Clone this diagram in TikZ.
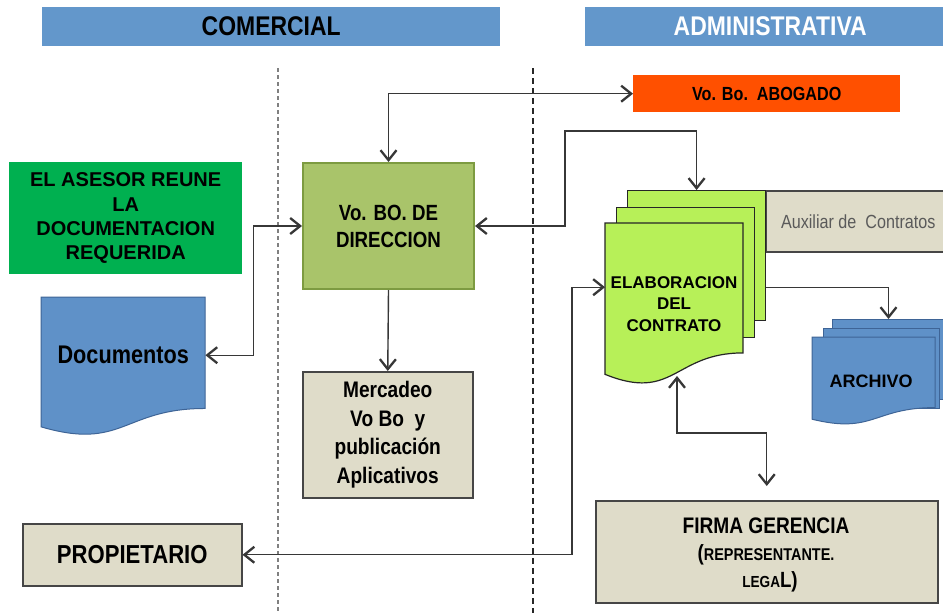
\documentclass[tikz,border=0pt]{standalone}
\usepackage{fontspec}
\setmainfont{Liberation Sans}
\newfontfamily\narrowfont[FakeStretch=0.85]{Liberation Sans}
\usetikzlibrary{arrows.meta,calc}

\definecolor{hdrblue}{RGB}{99,151,203}
\definecolor{asesorgreen}{RGB}{0,176,80}
\definecolor{docblue}{RGB}{95,145,200}
\definecolor{docedge}{RGB}{62,100,150}
\definecolor{olive}{RGB}{169,196,106}
\definecolor{oliveedge}{RGB}{125,155,65}
\definecolor{beige}{RGB}{223,220,201}
\definecolor{beigeedge}{RGB}{70,70,70}
\definecolor{abogred}{RGB}{255,80,0}
\definecolor{limegreen}{RGB}{183,240,88}
\definecolor{linegray}{RGB}{55,55,55}
\definecolor{auxtext}{RGB}{90,90,90}

\newcommand\setfs[2]{\fontsize{#1}{#2}\selectfont}
% document sheet with a wavy bottom edge: options, x, y, width, height
\newcommand\wavedoc[5]{%
  \path[#1] (#2,#3) -- ({#2+#4},#3) -- ({#2+#4},{#3+0.802*#5})
    .. controls ({#2+0.5*#4},{#3+0.802*#5}) and ({#2+0.5*#4},{#3+1.107*#5})
    .. (#2,{#3+0.934*#5}) -- cycle;}

\begin{document}
\begin{tikzpicture}[x=1pt,y=-1pt,
  box/.style={anchor=north west, inner sep=0pt, align=center},
  hdr/.style={box, fill=hdrblue, font=\narrowfont\bfseries\setfs{27}{30}},
  beigebox/.style={box, fill=beige, draw=beigeedge, line width=1.5pt},
  sheet/.style={box, fill=limegreen, draw=black!85, line width=1.2pt},
  bluesheet/.style={box, fill=docblue, draw=docedge, line width=1pt},
  firmatext/.style={inner sep=0pt, font=\narrowfont\bfseries},
  conn/.style={draw=linegray, line width=1.4pt,
    >={Straight Barb[length=10pt,width=16pt,line width=2.3pt]}},
  lane/.style={line width=1.4pt}]

\clip (0,0) rectangle (943,613);
\fill[white] (0,0) rectangle (943,613);

% lane headers
\node[hdr, minimum width=458pt, minimum height=39pt] (hcom) at (42,7) {COMERCIAL};
\node[hdr, text=white, minimum width=370pt, minimum height=39pt] (hadm) at (585,7) {ADMINISTRATIVA};

% lane separators
\draw[lane, draw=black!50, dash pattern=on 4pt off 3pt] (278,68) -- (278,613);
\draw[lane, draw=black!85, line width=1.2pt, dash pattern=on 6pt off 4pt] (533,68) -- (533,613);

% commercial lane
\node[box, fill=asesorgreen, minimum width=233pt, minimum height=112pt,
  font=\bfseries\setfs{20}{24.3}] (asesor) at (9,162)
  {EL ASESOR REUNE\\LA\\DOCUMENTACION\\REQUERIDA};

\wavedoc{fill=docblue, draw=docedge, line width=1pt}{41}{297}{164}{139}
\node[box, minimum width=164pt, minimum height=116pt,
  font=\narrowfont\bfseries\setfs{25.5}{28}] (docs) at (41,297) {Documentos};

\node[box, fill=olive, draw=oliveedge, line width=2pt, minimum width=171pt,
  minimum height=126pt, font=\narrowfont\bfseries\setfs{22}{27}] (vobo) at (302,162)
  {Vo. BO. DE\\DIRECCION};

\node[beigebox, minimum width=170pt, minimum height=126pt,
  font=\narrowfont\bfseries\setfs{22.5}{28.5}] (merc) at (302,371)
  {Mercadeo\\Vo Bo\ \ y\\publicación\\Aplicativos};

\node[beigebox, minimum width=219pt, minimum height=62pt,
  font=\narrowfont\bfseries\setfs{26}{30}] (prop) at (22,523) {PROPIETARIO};

% administrative lane
\node[box, fill=abogred, minimum width=267pt, minimum height=37pt,
  font=\narrowfont\bfseries\setfs{19}{22}] (abog) at (633,75) {Vo. Bo.\ \ ABOGADO};

\node[beigebox, minimum width=185pt, minimum height=61pt, text=auxtext,
  font=\narrowfont\setfs{19}{22}] (aux) at (765,190) {Auxiliar de\ \ Contratos};

\node[sheet, minimum width=138pt, minimum height=130pt] (elabback) at (627,190) {};
\node[sheet, minimum width=138pt, minimum height=130pt] (elabmid) at (616,207) {};
\wavedoc{fill=limegreen, draw=black!85, line width=1.2pt}{605}{223}{138}{162}
\node[box, minimum width=138pt, minimum height=128pt] (elab) at (605,223) {};
\node[align=center, inner sep=0pt, font=\bfseries\setfs{17}{21.5}] (elabtxt) at (674,304)
  {ELABORACION\\DEL\\CONTRATO};

\node[bluesheet, minimum width=112pt, minimum height=80pt] (archback) at (832,319) {};
\node[bluesheet, minimum width=116pt, minimum height=80pt] (archmid) at (823,328) {};
\wavedoc{fill=docblue, draw=docedge, line width=1pt}{812}{337}{123}{88}
\node[box, minimum width=118pt, minimum height=88pt,
  font=\bfseries\setfs{18}{22}] (arch) at (812,337) {ARCHIVO};

\node[beigebox, minimum width=342pt, minimum height=102pt] (firma) at (595,500) {};
\node[firmatext, font=\narrowfont\bfseries\setfs{22.5}{26}] (firma1) at (766,526) {FIRMA GERENCIA};
\node[firmatext] (firma2) at (766,555)
  {{\setfs{22}{26}(}{\setfs{17}{20}REPRESENTANTE.}};
\node[firmatext] (firma3) at (770,582)
  {{\setfs{16}{20}LEGA}{\setfs{22}{26}L)}};

% bend points
\coordinate (kdir) at (565,131);
\coordinate (elabfoot) at (677,376);
\coordinate (fbend) at (677,433);

% connectors
\draw[conn,<->] (vobo.north) |- (abog.west);
\draw[conn,<->] (vobo.east) -| (kdir) -| (elabback.north);
\draw[conn,<->] (docs.east) -- ++(48,0) |- (vobo.west);
\draw[conn,->] (vobo.south) -- (merc.north);
\draw[conn,<->] (elab.west) -- ++(-33,0) |- (prop.east);
\draw[conn,<->, shorten >=14pt] (elabfoot) -- (fbend) -| (firma.north);
\draw[conn,->] (elabback.east |- elab.west) -| (archback.north);
\end{tikzpicture}
\end{document}
